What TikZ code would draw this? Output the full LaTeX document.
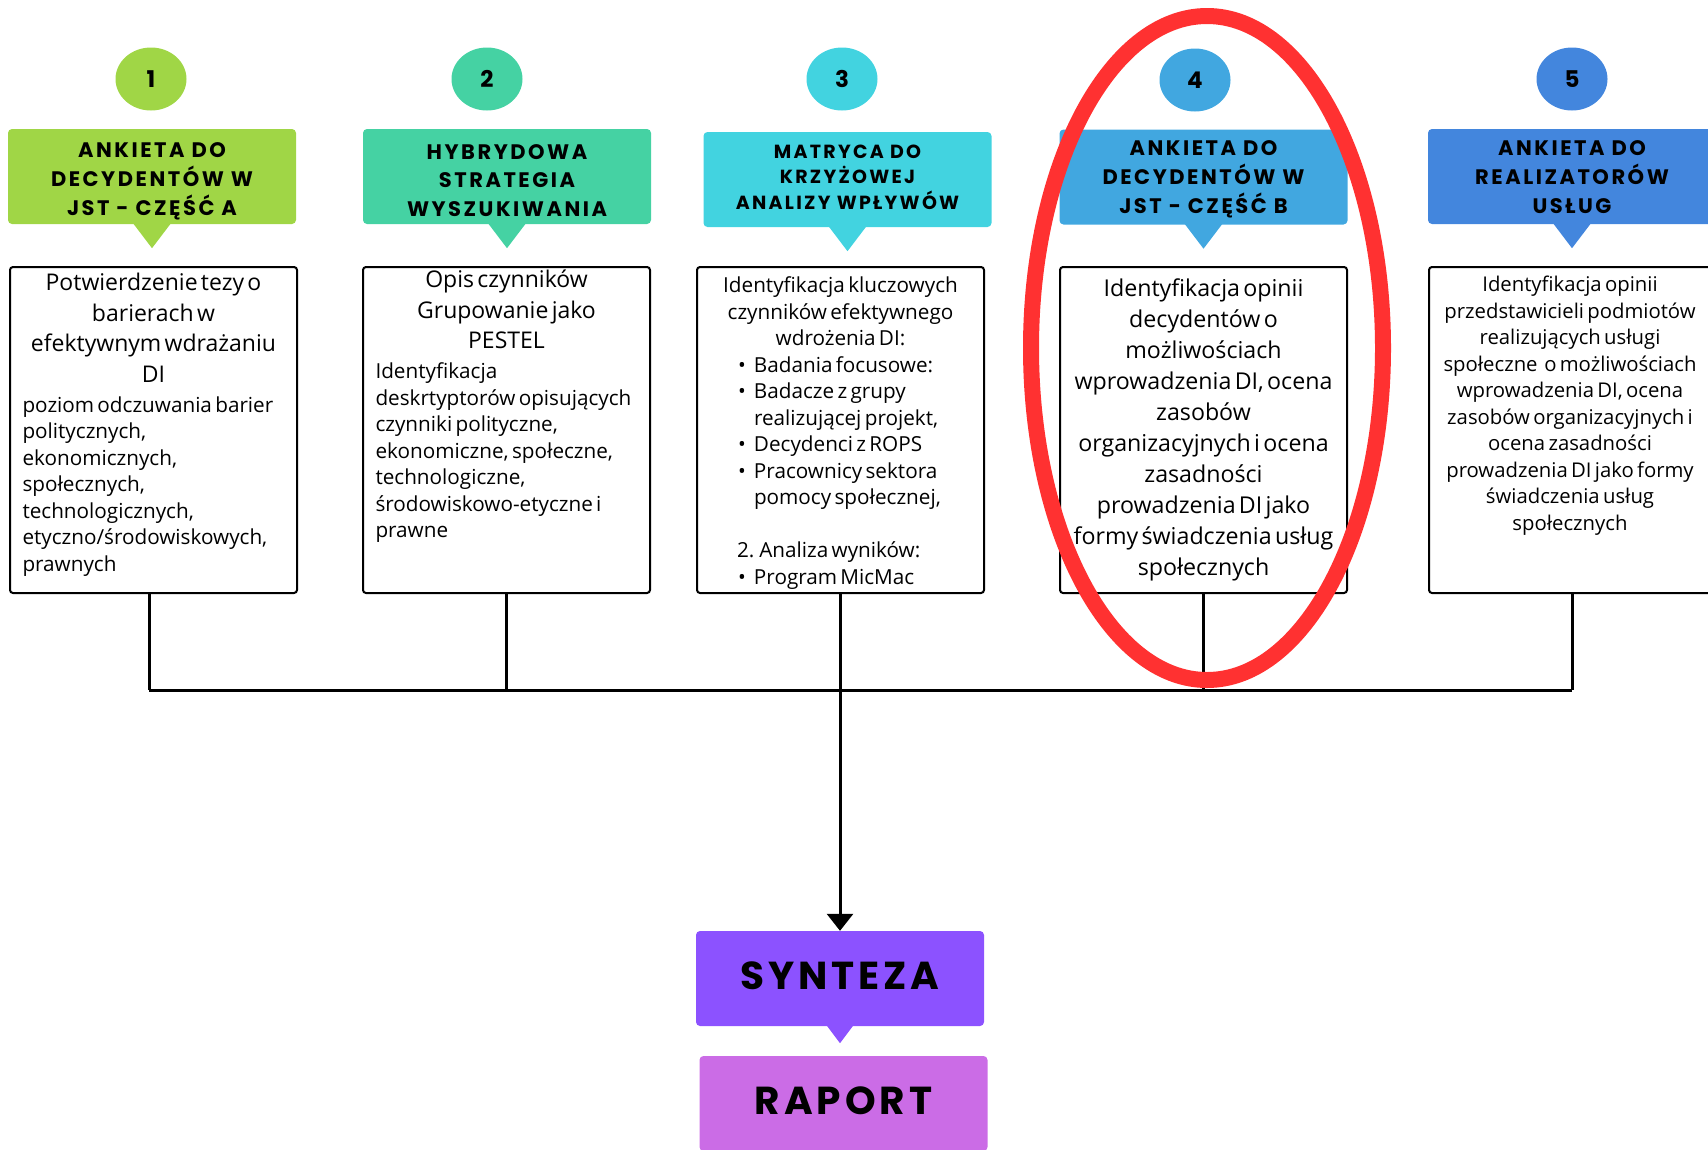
\documentclass[tikz,border=0pt]{standalone}
\usepackage{fontspec}
\setmainfont{Open Sans}[WordSpace=1.3]
\newfontfamily\headfont{Poppins}[LetterSpace=12]
\newfontfamily\bigfont{Poppins}[LetterSpace=10]
\usetikzlibrary{arrows.meta, positioning, calc, shapes.geometric}
\definecolor{stepA}{HTML}{A0D646}
\definecolor{stepB}{HTML}{45D2A3}
\definecolor{stepC}{HTML}{42D3E0}
\definecolor{stepD}{HTML}{41A7E0}
\definecolor{stepE}{HTML}{4386DD}
\definecolor{synth}{HTML}{8C52FF}
\definecolor{report}{HTML}{CB6CE6}
\definecolor{markred}{HTML}{FF3131}
\newcommand{\calltip}[4]{%
  \fill[#2] ($(#1.south)+(-#3,-1)$) -- ($(#1.south)+(0,#4)$)
  -- ($(#1.south)+(#3,-1)$) -- cycle;}
% header text, lowered (negative) or raised (positive) by #1
\newcommand{\headtxt}[2]{\raisebox{#1}[\height][\depth]{\begin{tabular}{@{}c@{}}#2\end{tabular}}}
\newcommand{\bigtxt}{\fontsize{23}{30.5}\selectfont}
\newcommand{\smalltxt}{\fontsize{20.7}{26.5}\selectfont}
\newcommand{\bitem}{\hspace*{30pt}\makebox[16pt][l]{\textbullet}}
\newcommand{\bcont}{\hspace*{46pt}}

\begin{document}
\begin{tikzpicture}[
				x=1pt, y=-1pt,
				>={Triangle[width=26pt,length=17pt]},
				numb/.style={ellipse, inner sep=0pt,
					minimum width=71pt, minimum height=63pt,
					font=\headfont\bfseries\fontsize{23}{23}\selectfont},
				head/.style={rounded corners=4pt, inner sep=0pt,
					minimum width=288pt, minimum height=95pt,
					font=\headfont\bfseries\fontsize{21}{28.5}\selectfont},
				tbox/.style={draw, line width=2pt, rounded corners=3pt,
					minimum width=287pt, minimum height=326pt, inner sep=0pt},
				body/.style={anchor=north, inner sep=0pt, align=left, text width=262pt},
				link/.style={line width=3pt},
				final/.style={rounded corners=4pt, inner sep=0pt,
					minimum width=288pt, minimum height=95pt,
					font=\bigfont\bfseries\fontsize{39}{39}\selectfont}
				]
				\clip (0,0) rectangle (1708,1149);
				
				%--- numbers ---------------------------------------------------------------
				\node[numb, fill=stepA] (n1) at (151,79) {1};
				\node[numb, fill=stepB] (n2) at (487,79) {2};
				\node[numb, fill=stepC] (n3) at (842,79) {3};
				\node[numb, fill=stepD] (n4) at (1195,80) {4};
				\node[numb, fill=stepE] (n5) at (1572,79) {5};
				
				%--- headers ---------------------------------------------------------------
				\node[head, fill=stepA] (h1) at (152,176.5)
				{\headtxt{-4.4pt}{ANKIETA DO\\DECYDENTÓW W\\JST - CZĘŚĆ A}};
				\node[head, fill=stepB] (h2) at (507,176.5)
				{\headtxt{-5.4pt}{HYBRYDOWA\\STRATEGIA\\WYSZUKIWANIA}};
				\node[head, fill=stepC, font=\headfont\bfseries\fontsize{19}{24.5}\selectfont]
				(h3) at (847.5,179.5)
				{\headtxt{0.7pt}{MATRYCA DO\\KRZYŻOWEJ\\ANALIZY WPŁYWÓW}};
				\node[head, fill=stepD] (h4) at (1203.5,177)
				{\headtxt{-2.2pt}{ANKIETA DO\\DECYDENTÓW W\\JST - CZĘŚĆ B}};
				\node[head, fill=stepE] (h5) at (1572,176.5)
				{\headtxt{-2.2pt}{ANKIETA DO\\REALIZATORÓW\\USŁUG}};
				\calltip{h1}{stepA}{19}{24}
				\calltip{h2}{stepB}{19}{24}
				\calltip{h3}{stepC}{19}{24}
				\calltip{h4}{stepD}{19}{24}
				\calltip{h5}{stepE}{19}{24}
				
				%--- description boxes -----------------------------------------------------
				\node[tbox] (t1) at (153.5,430) {};
				\node[tbox] (t2) at (506.5,430) {};
				\node[tbox] (t3) at (840.5,430) {};
				\node[tbox] (t4) at (1203.5,430) {};
				\node[tbox] (t5) at (1572.5,430) {};
				
				\node[body] (d1) at ($(t1.north)+(0,7)$)
				{{\centering\bigtxt Potwierdzenie tezy o\\barierach w\\efektywnym wdrażaniu\\DI\par}
					\vspace{3.5pt}
					{\smalltxt poziom odczuwania barier\\politycznych,\\ekonomicznych,\\społecznych,\\
						technologicznych,\\etyczno/środowiskowych,\\prawnych\par}};
				\node[body] (d2) at ($(t2.north)+(0,4)$)
				{{\centering\bigtxt Opis czynników\\Grupowanie jako\\PESTEL\par}
					\vspace{3.5pt}
					{\smalltxt Identyfikacja\\deskrtyptorów opisujących\\czynniki polityczne,\\
						ekonomiczne, społeczne,\\technologiczne,\\środowiskowo-etyczne i\\prawne\par}};
				\node[body, text width=265pt] (d3) at ($(t3.north)+(0,10.5)$)
				{{\smalltxt\centering Identyfikacja kluczowych\\czynników efektywnego\\wdrożenia DI:\par}
					{\smalltxt\bitem Badania focusowe:\\
						\bitem Badacze z grupy\\
						\bcont realizującej projekt,\\
						\bitem Decydenci z ROPS\\
						\bitem Pracownicy sektora\\
						\bcont pomocy społecznej,\\[26.5pt]
						\hspace*{29pt}2. Analiza wyników:\\
						\bitem Program MicMac\par}};
				\node[body, text width=280pt] (d4) at ($(t4.north)+(0,13)$)
				{{\centering\fontsize{23.2}{31}\selectfont Identyfikacja opinii\\decydentów o\\
						możliwościach\\wprowadzenia DI, ocena\\zasobów\\organizacyjnych i ocena\\
						zasadności\\prowadzenia DI jako\\formy świadczenia usług\\społecznych\par}};
				\node[body, text width=280pt] (d5) at ($(t5.north)+(-2.5,10)$)
				{{\centering\fontsize{20.3}{26.5}\selectfont Identyfikacja opinii\\
						przedstawicieli podmiotów\\realizujących usługi\\społeczne~ o możliwościach\\
						wprowadzenia DI, ocena\\zasobów organizacyjnych i\\ocena zasadności\\
						prowadzenia DI jako formy\\świadczenia usług\\społecznych\par}};
				
				%--- synthesis and report --------------------------------------------------
				\node[final, fill=synth] (syn) at (840,978.5) {\raisebox{5pt}{SYNTEZA}};
				\calltip{syn}{synth}{13.5}{17}
				\node[final, fill=report] (rap) at (843.5,1103.5) {\raisebox{5pt}{RAPORT}};
				
				%--- collecting bar and arrow ---------------------------------------------
				\coordinate (barL) at (149,690);
				\coordinate (barR) at (1572,690);
				\draw[link] (barL) -- (barR);
				\draw[link] (barL |- t1.south) -- (barL);
				\draw[link] (t2.south) -- (t2.south |- barL);
				\draw[link] (t3.south) -- (t3.south |- barL);
				\draw[link] (t4.south) -- (t4.south |- barL);
				\draw[link] (t5.south) -- (t5.south |- barL);
				\draw[link, ->] (syn.north |- barL) -- (syn.north);
				
				%--- red marking round step 4 ---------------------------------------------
				\node[draw=markred, line width=16pt, ellipse, inner sep=0pt,
				minimum width=352pt, minimum height=664pt] (mark) at (1207,348) {};
			\end{tikzpicture}
\end{document}
